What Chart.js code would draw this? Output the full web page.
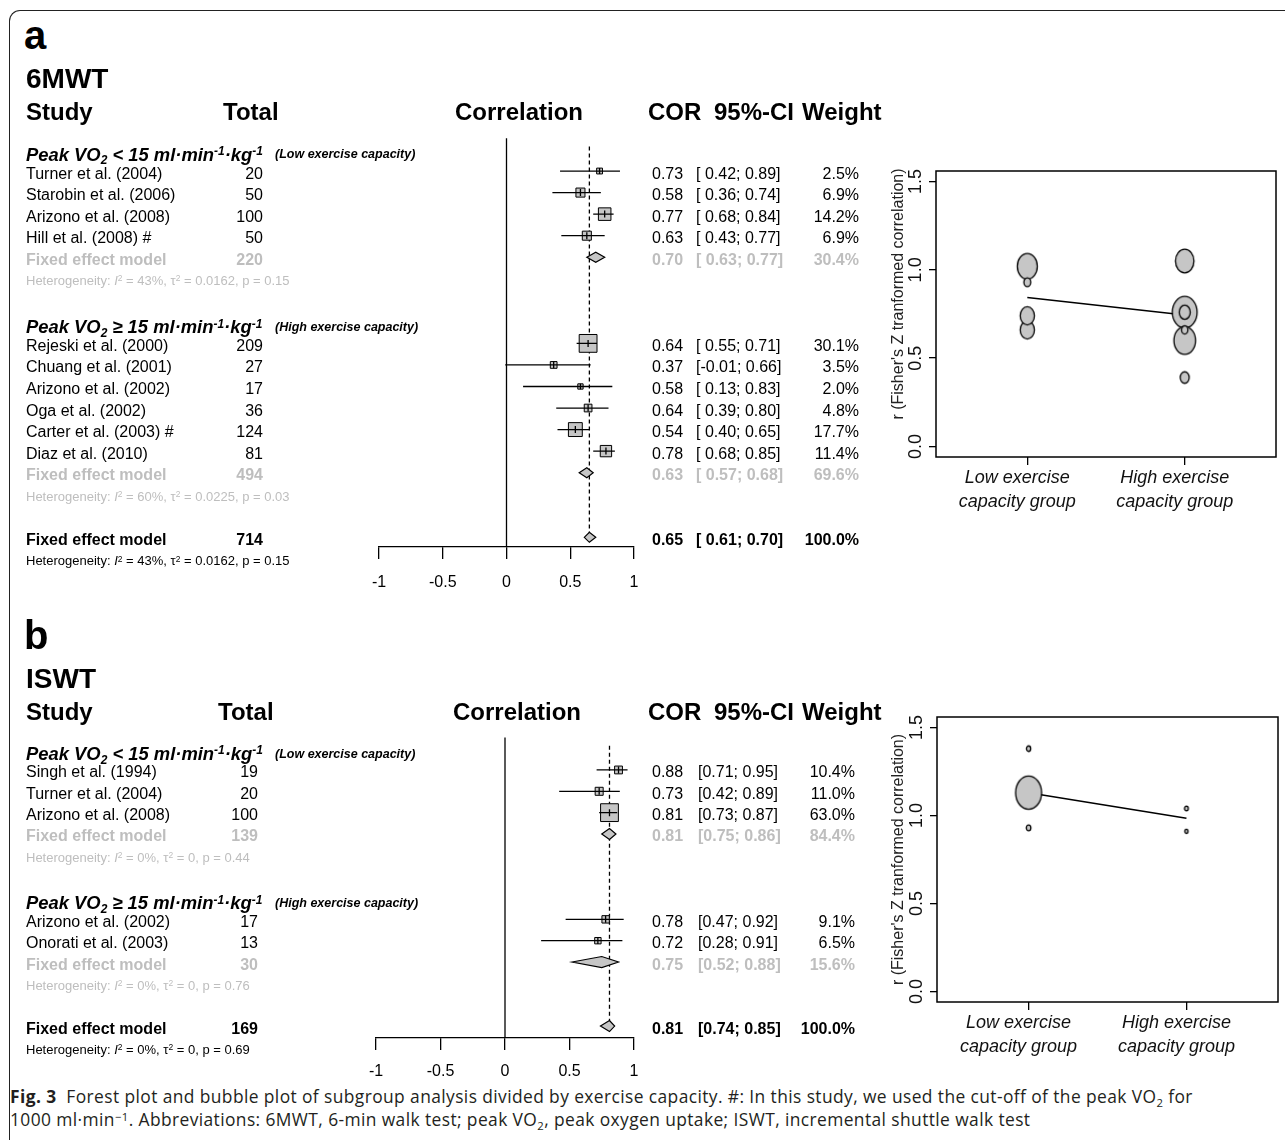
<!DOCTYPE html>
<html><head><meta charset="utf-8">
<script src="https://cdn.jsdelivr.net/npm/chart.js@4.4.1/dist/chart.umd.min.js"></script>
<style>
html,body{margin:0;padding:0;background:#fff;overflow:hidden}
#root{position:relative;width:1285px;height:1140px;overflow:hidden;font-family:"Liberation Sans",Arial,sans-serif;color:#000;background:#fff}
.t{position:absolute;white-space:nowrap}
canvas{position:absolute}
sub,sup{font-size:65%;line-height:0;position:relative;vertical-align:baseline}
sub{top:0.32em} sup{top:-0.45em}
.frame{position:absolute;left:9px;top:10px;width:1400px;height:1300px;border-top:1.5px solid #222;border-left:1.5px solid #222;border-top-left-radius:11px}
#cap{position:absolute;left:10px;top:1085px;font-family:"Open Sans",sans-serif;font-size:17.4px;letter-spacing:0.4px;line-height:23px;color:#231f20;white-space:nowrap}
</style></head><body><div id="root"><div class="frame"></div>
<div id="cap"><b>Fig. 3</b>&nbsp; Forest plot and bubble plot of subgroup analysis divided by exercise capacity. #: In this study, we used the cut-off of the peak VO<sub>2</sub> for<br>1000 ml·min<sup>−1</sup>. Abbreviations: 6MWT, 6-min walk test; peak VO<sub>2</sub>, peak oxygen uptake; ISWT, incremental shuttle walk test</div>
</div>
<script>
// ---------------- DATA: panel a (6MWT) ----------------
const studiesA = ['Turner et al. (2004)','Starobin et al. (2006)','Arizono et al. (2008)','Hill et al. (2008) #',
  'Rejeski et al. (2000)','Chuang et al. (2001)','Arizono et al. (2002)','Oga et al. (2002)','Carter et al. (2003) #','Diaz et al. (2010)'];
const groupA  = ['low','low','low','low','high','high','high','high','high','high'];
const totalA  = [20,50,100,50,209,27,17,36,124,81];
const corA    = [0.73,0.58,0.77,0.63,0.64,0.37,0.58,0.64,0.54,0.78];
const lowerA  = [0.42,0.36,0.68,0.43,0.55,-0.01,0.13,0.39,0.40,0.68];
const upperA  = [0.89,0.74,0.84,0.77,0.71,0.66,0.83,0.80,0.65,0.85];
const weightA = [2.5,6.9,14.2,6.9,30.1,3.5,2.0,4.8,17.7,11.4];
const subTotalA  = [220,494];
const subCorA    = [0.70,0.63];
const subLowerA  = [0.63,0.57];
const subUpperA  = [0.77,0.68];
const subWeightA = [30.4,69.6];
const subI2A     = ['43%','60%'];
const subTau2A   = ['0.0162','0.0225'];
const subPA      = ['0.15','0.03'];
const overallA   = [714,0.65,0.61,0.70,100.0];   // total, COR, lower, upper, weight
const overallHetA = ['43%','0.0162','0.15'];
const fisherZA   = [0.93,0.66,1.02,0.74,0.76,0.39,0.66,0.76,0.60,1.05];
const bubbleWA   = [13,27,38,27,47,17,12,21,41,35];
const regLineA   = [0.843,0.744];

// ---------------- DATA: panel b (ISWT) ----------------
const studiesB = ['Singh et al. (1994)','Turner et al. (2004)','Arizono et al. (2008)','Arizono et al. (2002)','Onorati et al. (2003)'];
const groupB  = ['low','low','low','high','high'];
const totalB  = [19,20,100,17,13];
const corB    = [0.88,0.73,0.81,0.78,0.72];
const lowerB  = [0.71,0.42,0.73,0.47,0.28];
const upperB  = [0.95,0.89,0.87,0.92,0.91];
const weightB = [10.4,11.0,63.0,9.1,6.5];
const subTotalB  = [139,30];
const subCorB    = [0.81,0.75];
const subLowerB  = [0.75,0.52];
const subUpperB  = [0.86,0.88];
const subWeightB = [84.4,15.6];
const subI2B     = ['0%','0%'];
const subTau2B   = ['0','0'];
const subPB      = ['0.44','0.76'];
const overallB   = [169,0.81,0.74,0.85,100.0];
const overallHetB = ['0%','0','0.69'];
const fisherZB   = [1.38,0.93,1.13,1.04,0.91];
const bubbleWB   = [16,17,97,14,10];
const regLineB   = [1.13,0.985];

// ---------------- shared labels ----------------
const forestTicks = [-1,-0.5,0,0.5,1];
const forestTickLabels = ['-1','-0.5','0','0.5','1'];
const bubbleCats = [['Low exercise','capacity group'],['High exercise','capacity group']];
const bubbleYTicks = [0,0.5,1,1.5];
const bubbleYTickLabels = ['0.0','0.5','1.0','1.5'];
const groupTitles = ['Peak VO<sub>2</sub> &lt; 15 ml·min<sup>-1</sup>·kg<sup>-1</sup>','Peak VO<sub>2</sub> ≥ 15 ml·min<sup>-1</sup>·kg<sup>-1</sup>'];
const groupNotes = ['(Low exercise capacity)','(High exercise capacity)'];

// ---------------- helpers ----------------
Chart.defaults.font.family = '"Liberation Sans", Arial, sans-serif';
Chart.defaults.color = '#000';
const FONT = '"Liberation Sans", Arial, sans-serif';
const GREY = '#bebebe';
const FILL = '#c6c6c6';
const root = document.getElementById('root');

function addText(html, x, yc, o, align) {
  const d = document.createElement('div');
  d.className = 't';
  d.innerHTML = html;
  const fs = o.size || 16;
  d.style.font = (o.style || 'normal') + ' ' + (o.weight || 'normal') + ' ' + fs + 'px ' + FONT;
  d.style.lineHeight = (2 * fs) + 'px';
  d.style.height = (2 * fs) + 'px';
  d.style.top = (yc - fs) + 'px';
  d.style.left = x + 'px';
  if (o.color) d.style.color = o.color;
  if (align === 'right') d.style.transform = 'translateX(-100%)';
  else if (align === 'center') d.style.transform = 'translateX(-50%)';
  root.appendChild(d);
  return d;
}
function makeCanvas(left, top, w, h) {
  const c = document.createElement('canvas');
  c.width = w; c.height = h;
  c.style.left = left + 'px'; c.style.top = top + 'px';
  c.style.width = w + 'px'; c.style.height = h + 'px';
  root.appendChild(c);
  return c;
}
function hetHtml(i2, tau2, p) {
  return 'Heterogeneity: <i>I</i><sup>2</sup> = ' + i2 + ', τ<sup>2</sup> = ' + tau2 + ', p = ' + p;
}

// ---------------- forest plot ----------------
function buildForest(p) {
  const rows = [];
  let r = 0;
  ['low','high'].forEach((g, gi) => {
    rows.push({type:'header', row:r++, gi});
    p.studies.forEach((s, i) => { if (p.group[i] === g) rows.push({type:'study', row:r++, i}); });
    rows.push({type:'sub', row:r++, gi});
    rows.push({type:'het', row:r++, html:hetHtml(p.subI2[gi], p.subTau2[gi], p.subP[gi]), color:GREY});
    r++;
  });
  const overallRow = r;
  rows.push({type:'overall', row:r++});
  rows.push({type:'het', row:r++, html:hetHtml(p.overallHet[0], p.overallHet[1], p.overallHet[2]), color:'#000'});

  const studyRows = rows.filter(o => o.type === 'study');
  const wmax = Math.max(...p.weight);
  const half = i => 0.5 + 8.4 * Math.sqrt(p.weight[i] / wmax);

  const diamonds = [];
  rows.forEach(o => {
    if (o.type === 'sub') diamonds.push({row:o.row, est:p.subCor[o.gi], lo:p.subLower[o.gi], hi:p.subUpper[o.gi]});
    if (o.type === 'overall') diamonds.push({row:o.row, est:p.overall[1], lo:p.overall[2], hi:p.overall[3]});
  });

  const marks = {
    id:'forestMarks',
    beforeDatasetsDraw(chart) {
      const ctx = chart.ctx, xs = chart.scales.x, ys = chart.scales.y;
      ctx.save();
      ctx.strokeStyle = '#000';
      ctx.lineWidth = 1.3;
      const x0 = xs.getPixelForValue(0);
      ctx.beginPath(); ctx.moveTo(x0, ys.getPixelForValue(-0.52)); ctx.lineTo(x0, chart.chartArea.bottom); ctx.stroke();
      const xd = xs.getPixelForValue(p.overall[1]);
      ctx.setLineDash([4,3]);
      ctx.beginPath(); ctx.moveTo(xd, ys.getPixelForValue(-0.14)); ctx.lineTo(xd, ys.getPixelForValue(overallRow)); ctx.stroke();
      ctx.restore();
    },
    afterDatasetsDraw(chart) {
      const ctx = chart.ctx, xs = chart.scales.x, ys = chart.scales.y;
      ctx.save();
      ctx.strokeStyle = '#000';
      ctx.lineWidth = 1.3;
      studyRows.forEach(o => {
        const y = ys.getPixelForValue(o.row);
        ctx.beginPath();
        ctx.moveTo(xs.getPixelForValue(p.lower[o.i]), y);
        ctx.lineTo(xs.getPixelForValue(p.upper[o.i]), y);
        const xe = xs.getPixelForValue(p.cor[o.i]);
        const h = Math.min(half(o.i), 3.5);
        ctx.moveTo(xe, y - h); ctx.lineTo(xe, y + h);
        ctx.stroke();
      });
      ctx.lineWidth = 1.2;
      diamonds.forEach(d => {
        const y = ys.getPixelForValue(d.row);
        ctx.beginPath();
        ctx.moveTo(xs.getPixelForValue(d.lo), y);
        ctx.lineTo(xs.getPixelForValue(d.est), y - p.dh);
        ctx.lineTo(xs.getPixelForValue(d.hi), y);
        ctx.lineTo(xs.getPixelForValue(d.est), y + p.dh);
        ctx.closePath();
        ctx.fillStyle = FILL; ctx.fill(); ctx.stroke();
      });
      ctx.restore();
    }
  };

  const canvas = makeCanvas(0, p.top, 880, p.height);
  const chart = new Chart(canvas, {
    type:'scatter',
    data:{datasets:[{
      data: studyRows.map(o => ({x:p.cor[o.i], y:o.row})),
      pointStyle:'rect',
      pointRadius: studyRows.map(o => half(o.i) / Math.SQRT1_2),
      backgroundColor: FILL, borderColor:'#000', borderWidth:1
    }]},
    options:{
      responsive:false, animation:false, devicePixelRatio:1, events:[],
      layout:{padding:{left:p.padLeft, right:p.padRight, top:p.padTop, bottom:0}},
      plugins:{legend:{display:false}, tooltip:{enabled:false}},
      scales:{
        x:{type:'linear', position:'bottom', min:-1, max:1,
           afterBuildTicks: s => { s.ticks = forestTicks.map(v => ({value:v})); },
           afterFit: s => { s.height = p.axisH; },
           ticks:{callback:(v, i) => forestTickLabels[i], font:{size:16}, color:'#000', padding:p.tickPad, maxRotation:0, autoSkip:false},
           grid:{drawOnChartArea:false, drawTicks:true, tickLength:12, color:'#000', lineWidth:1.3},
           border:{display:true, color:'#000', width:1.3}},
        y:{type:'linear', display:false, reverse:true, min:p.yMin, max:p.yMax}
      }
    },
    plugins:[marks]
  });

  // text columns positioned from the chart's own row scale
  const ys = chart.scales.y;
  const rowY = row => p.top + ys.getPixelForValue(row) + 2.5;
  const ci = (lo, hi) => '[' + (p.ciPad && lo >= 0 ? ' ' : '') + lo.toFixed(2) + '; ' + hi.toFixed(2) + ']';
  rows.forEach(o => {
    const y = rowY(o.row);
    if (o.type === 'header') {
      addText(groupTitles[o.gi], 26, y + 3, {size:18.4, weight:'bold', style:'italic'});
      addText(groupNotes[o.gi], 275, y + 3, {size:12.5, weight:'bold', style:'italic'});
    } else if (o.type === 'study') {
      const i = o.i;
      addText(p.studies[i], 26, y, {size:16});
      addText(String(p.total[i]), p.totalX, y, {size:16}, 'right');
      addText(p.cor[i].toFixed(2), 652, y, {size:16});
      addText(ci(p.lower[i], p.upper[i]), p.ciX, y, {size:16});
      addText(p.weight[i].toFixed(1) + '%', p.wX, y, {size:16}, 'right');
    } else if (o.type === 'sub') {
      const gi = o.gi, st = {size:16, weight:'bold', color:GREY};
      addText('Fixed effect model', 26, y, st);
      addText(String(p.subTotal[gi]), p.totalX, y, st, 'right');
      addText(p.subCor[gi].toFixed(2), 652, y, st);
      addText(ci(p.subLower[gi], p.subUpper[gi]), p.ciX, y, st);
      addText(p.subWeight[gi].toFixed(1) + '%', p.wX, y, st, 'right');
    } else if (o.type === 'overall') {
      const st = {size:16, weight:'bold'};
      addText('Fixed effect model', 26, y, st);
      addText(String(p.overall[0]), p.totalX, y, st, 'right');
      addText(p.overall[1].toFixed(2), 652, y, st);
      addText(ci(p.overall[2], p.overall[3]), p.ciX, y, st);
      addText(p.overall[4].toFixed(1) + '%', p.wX, y, st, 'right');
    } else if (o.type === 'het') {
      addText(o.html, 26, y, {size:13, color:o.color});
    }
  });
  // headings
  addText(p.letter, 24, p.hy - 77, {size:40, weight:'bold'});
  addText(p.title, 26, p.hy - 33, {size:28, weight:'bold'});
  addText('Study', 26, p.hy, {size:24, weight:'bold'});
  addText('Total', p.totalHeadX, p.hy, {size:24, weight:'bold'});
  addText('Correlation', p.corrX, p.hy, {size:24, weight:'bold'}, 'center');
  addText('COR', 648, p.hy, {size:24, weight:'bold'});
  addText('95%-CI', 714, p.hy, {size:24, weight:'bold'});
  addText('Weight', 802, p.hy, {size:24, weight:'bold'});
  return chart;
}

// ---------------- bubble plot ----------------
function ellipseImg(rx) {
  const ry = rx * 1.28;
  const c = document.createElement('canvas');
  c.width = Math.ceil(2 * rx + 4); c.height = Math.ceil(2 * ry + 4);
  const g = c.getContext('2d');
  g.beginPath();
  g.ellipse(c.width / 2, c.height / 2, rx, ry, 0, 0, Math.PI * 2);
  g.fillStyle = FILL; g.fill();
  g.lineWidth = 1.3; g.strokeStyle = '#000'; g.stroke();
  return c;
}
function buildBubble(p) {
  const datasets = [{
    type:'line', data:[{x:1, y:p.reg[0]}, {x:2, y:p.reg[1]}],
    borderColor:'#000', borderWidth:1.5, pointRadius:0, order:2
  }];
  const wmax = Math.max(...p.bw);
  ['low','high'].forEach((g, gi) => {
    const idx = p.group.map((gg, i) => gg === g ? i : -1).filter(i => i >= 0).sort((a, b) => p.bw[b] - p.bw[a]);
    datasets.push({
      type:'scatter',
      data: idx.map(i => ({x:gi + 1, y:p.z[i]})),
      pointStyle: idx.map(i => ellipseImg(Math.max(1.6, p.rmax * p.bw[i] / wmax))),
      pointRadius:5, order:1
    });
  });
  const boxPlugin = {
    id:'box',
    afterDraw(chart) {
      const a = chart.chartArea, ctx = chart.ctx;
      ctx.save(); ctx.strokeStyle = '#000'; ctx.lineWidth = 1.5;
      ctx.strokeRect(a.left, a.top, a.right - a.left, a.bottom - a.top);
      ctx.restore();
    }
  };
  const canvas = makeCanvas(880, p.top, 405, p.height);
  return new Chart(canvas, {
    data:{datasets},
    options:{
      responsive:false, animation:false, devicePixelRatio:1, events:[],
      layout:{padding:{left:0, right:p.padRight, top:p.padTop, bottom:0}},
      plugins:{legend:{display:false}, tooltip:{enabled:false}},
      scales:{
        x:{type:'linear', min:0.42, max:2.58,
           afterBuildTicks: s => { s.ticks = [1,2].map(v => ({value:v})); },
           afterFit: s => { s.height = p.axisH; },
           ticks:{callback:(v, i) => bubbleCats[i], font:{size:18, style:'italic', lineHeight:1.33}, color:'#111',
                  padding:1, labelOffset:-10, maxRotation:0, autoSkip:false},
           grid:{drawOnChartArea:false, drawTicks:true, tickLength:8, color:'#000', lineWidth:1.3},
           border:{display:false}},
        y:{type:'linear', min:-0.06, max:1.56,
           afterBuildTicks: s => { s.ticks = bubbleYTicks.map(v => ({value:v})); },
           afterFit: s => { s.width = p.axisW; },
           ticks:{callback:(v, i) => bubbleYTickLabels[i], font:{size:18}, color:'#111', minRotation:90, maxRotation:90,
                  crossAlign:'center', padding:0, autoSkip:false},
           grid:{drawOnChartArea:false, drawTicks:true, tickLength:7, color:'#000', lineWidth:1.3},
           border:{display:false},
           title:{display:true, text:p.ytitle, font:{size:16}, color:'#222', padding:{top:9, bottom:0}}}
      }
    },
    plugins:[boxPlugin]
  });
}

// ---------------- build ----------------
buildForest({letter:'a', title:'6MWT', hy:111.5, top:100, height:510, padLeft:379, padRight:246, padTop:26,
  yMin:-1.09, yMax:18.45, axisH:63, tickPad:14, dh:5,
  studies:studiesA, group:groupA, total:totalA, cor:corA, lower:lowerA, upper:upperA, weight:weightA,
  subTotal:subTotalA, subCor:subCorA, subLower:subLowerA, subUpper:subUpperA, subWeight:subWeightA,
  subI2:subI2A, subTau2:subTau2A, subP:subPA, overall:overallA, overallHet:overallHetA,
  totalX:263, totalHeadX:223, corrX:519, ciX:696, wX:859, ciPad:true});
buildForest({letter:'b', title:'ISWT', hy:712, top:700, height:390, padLeft:376, padRight:246, padTop:26,
  yMin:-1.06, yMax:13.56, axisH:52, tickPad:12, dh:5.5,
  studies:studiesB, group:groupB, total:totalB, cor:corB, lower:lowerB, upper:upperB, weight:weightB,
  subTotal:subTotalB, subCor:subCorB, subLower:subLowerB, subUpper:subUpperB, subWeight:subWeightB,
  subI2:subI2B, subTau2:subTau2B, subP:subPB, overall:overallB, overallHet:overallHetB,
  totalX:258, totalHeadX:218, corrX:517, ciX:698, wX:855, ciPad:false});
buildBubble({top:140, height:390, padTop:31, padRight:9, axisH:73, axisW:56,
  group:groupA, z:fisherZA, bw:bubbleWA, reg:regLineA, rmax:12.4,
  ytitle:"         r (Fisher's Z tranformed correlation)"});
buildBubble({top:690, height:400, padTop:27, padRight:7, axisH:88, axisW:57,
  group:groupB, z:fisherZB, bw:bubbleWB, reg:regLineB, rmax:13,
  ytitle:"r (Fisher's Z tranformed correlation)"});
</script></body></html>
